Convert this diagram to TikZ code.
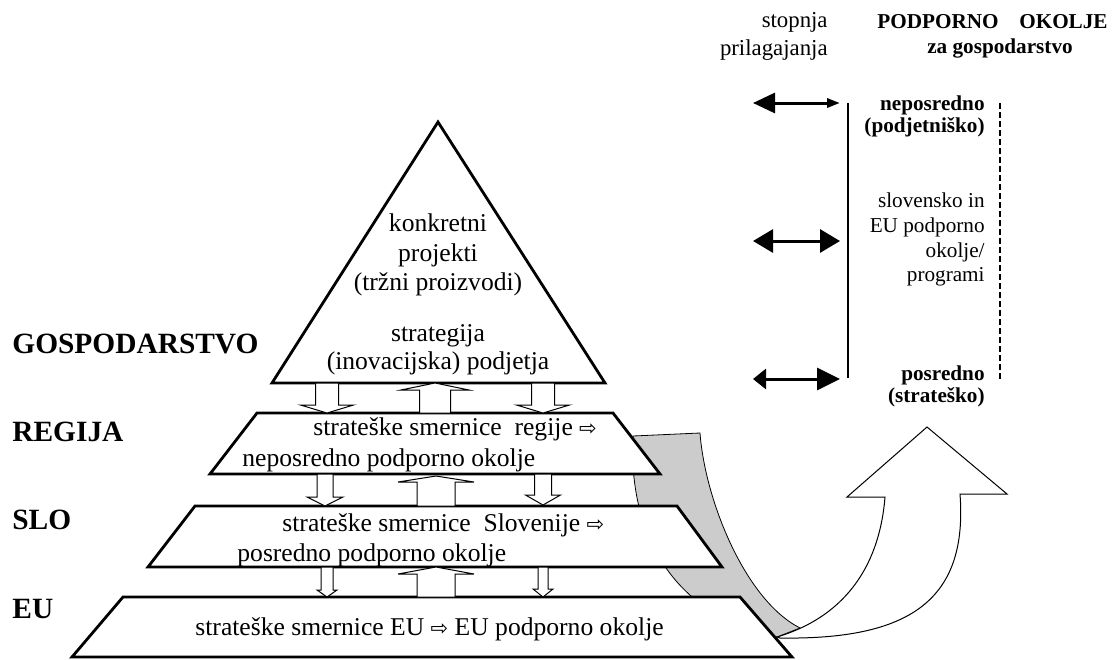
\documentclass[tikz,border=0pt]{standalone}
\usepackage{fontspec}
\setmainfont{Liberation Serif}
\newfontfamily\arrowfont{DejaVu Sans}
\usetikzlibrary{arrows.meta}

\newcommand{\rarr}{{\arrowfont\fontsize{10.5}{10.5}\selectfont ⇨}}
% hollow block arrow: centre x, half shaft, half head, start y, head y, tip y
\newcommand{\blockarr}[6]{%
  \draw[blockarrow] (#1-#2,#4) -- (#1-#2,#5) -- (#1-#3,#5) -- (#1,#6)
    -- (#1+#3,#5) -- (#1+#2,#5) -- (#1+#2,#4) -- cycle;}

\tikzset{
  layer/.style={draw=black, fill=white, line width=1.4pt},
  blockarrow/.style={draw=black, fill=white, line width=0.5pt},
  txt/.style={inner sep=0pt, anchor=base, font=\fontsize{12.8}{15}\selectfont},
  level/.style={inner sep=0pt, anchor=base west, font=\bfseries\fontsize{14.7}{16}\selectfont},
  side/.style={inner sep=0pt, anchor=base east, font=\fontsize{10.6}{12}\selectfont},
  sidebf/.style={side, font=\bfseries\fontsize{10.6}{12}\selectfont},
  head/.style={inner sep=0pt, anchor=base east, font=\fontsize{11.4}{13}\selectfont},
  dbl/.style={line width=1.5pt},
}

\begin{document}
\begin{tikzpicture}[x=0.5pt, y=-0.5pt]
\useasboundingbox (0,0) rectangle (1112,659);

% grey back side of the bent arrow
\draw[fill=gray!40, line width=0.4pt] (633,436) -- (700,433)
  .. controls (705,500) and (745,600) .. (800,628) -- (777,637)
  .. controls (670,615) and (628,530) .. (633,436) -- cycle;
% bent arrow
\draw[fill=white, line width=0.5pt] (777,637)
  .. controls (850,615) and (880,560) .. (885,497) -- (847,497) -- (927,427)
  -- (1007,494) -- (960,494) .. controls (968,600) and (910,640) .. (780,638) -- cycle;

% pyramid
\draw[layer] (438,122) -- (605,383) -- (272,383) -- cycle;
\draw[layer] (257,413) -- (613,413) -- (660,474) -- (210,474) -- cycle;
\draw[layer] (195,506) -- (677,506) -- (722,567) -- (148,567) -- cycle;
\draw[layer] (123,597) -- (740,597) -- (792,657) -- (72,657) -- cycle;

% arrows between the levels
\blockarr{327}{11.5}{26.5}{383}{405}{413}
\blockarr{435}{15.5}{34}{413}{390}{383}
\blockarr{543}{11.5}{26.5}{383}{405}{413}
\blockarr{325}{8}{18}{474}{497}{506}
\blockarr{436}{19}{38}{506}{482}{476}
\blockarr{543}{8.5}{17.5}{474}{495}{505}
\blockarr{327}{6}{10}{567}{590}{597}
\blockarr{436}{19}{38}{597}{574}{567}
\blockarr{543}{5}{10}{567}{589}{597}

\node[txt] (konkretni) at (438,231) {konkretni};
\node[txt] (projekti) at (438,261) {projekti};
\node[txt] (trzni) at (438,290) {(tržni proizvodi)};
\node[txt] (strategija) at (438,341) {strategija};
\node[txt] (inovacijska) at (438,369) {(inovacijska) podjetja};
\node[txt, anchor=base west] (regija1) at (313,435) {strateške smernice\ \ regije \rarr};
\node[txt, anchor=base west] (regija2) at (242,466) {neposredno podporno okolje};
\node[txt, anchor=base west] (slo1) at (282,531) {strateške smernice\ \ Slovenije \rarr};
\node[txt, anchor=base west] (slo2) at (237,561) {posredno podporno okolje};
\node[txt, anchor=base west] (eu1) at (195,635) {strateške smernice EU \rarr{} EU podporno okolje};

\node[level] (gosp) at (12,353) {GOSPODARSTVO};
\node[level] (regija) at (12,441) {REGIJA};
\node[level] (slo) at (12,529) {SLO};
\node[level] (eu) at (12,618) {EU};

% right column
\node[head] (stopnja) at (828,27) {stopnja};
\node[head] (prilag) at (828,55) {prilagajanja};
\node[sidebf, anchor=base west] (podporno) at (877,28) {PODPORNO};
\node[sidebf] (okolje) at (1108,28) {OKOLJE};
\node[sidebf, anchor=base] (zagosp) at (1000,53) {za gospodarstvo};

\node[sidebf] (neposr) at (985,110) {neposredno};
\node[sidebf] (podjet) at (985,132) {(podjetniško)};
\node[side] (slov1) at (985,207) {slovensko in};
\node[side] (slov2) at (985,232) {EU podporno};
\node[side] (slov3) at (985,257) {okolje/};
\node[side] (slov4) at (985,281) {programi};
\node[sidebf] (posr) at (985,380) {posredno};
\node[sidebf] (strat) at (985,402) {(strateško)};

\coordinate (scaletop) at (848,103);
\coordinate (scalebot) at (848,378);
\draw[line width=0.6pt] (scaletop) -- (scalebot);
\coordinate (envtop) at (1000,103);
\coordinate (envbot) at (1000,380);
\draw[line width=1pt, dash pattern=on 3pt off 1.5pt] (envtop) -- (envbot);

\coordinate (a1l) at (753,103); \coordinate (a1r) at (840,103);
\coordinate (a2l) at (753,241); \coordinate (a2r) at (840,241);
\coordinate (a3l) at (753,379); \coordinate (a3r) at (840,379);
\draw[dbl, {Triangle[length=11pt,width=10pt]}-{Triangle[length=6.5pt,width=4.5pt]}] (a1l) -- (a1r);
\draw[dbl, {Triangle[length=10pt,width=11.5pt]}-{Triangle[length=10pt,width=11.5pt]}] (a2l) -- (a2r);
\draw[dbl, {Triangle[length=6.5pt,width=10pt]}-{Triangle[length=11.5pt,width=11pt]}] (a3l) -- (a3r);
\end{tikzpicture}
\end{document}
